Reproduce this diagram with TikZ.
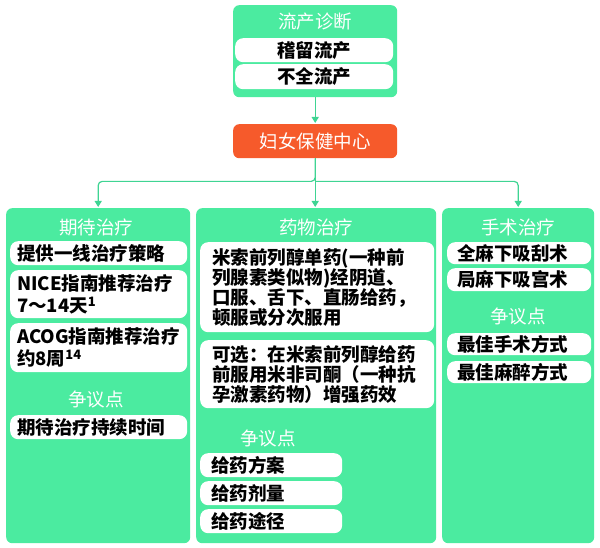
\documentclass[tikz,border=0pt]{standalone}
\usepackage{fontspec}
\usepackage{tikz}
\usetikzlibrary{arrows.meta}
\newfontfamily\cjk{Noto Sans CJK SC}
\definecolor{mint}{HTML}{4BEBA0}
\definecolor{wirecol}{HTML}{3FD493}
\definecolor{flame}{HTML}{F65A2B}

\begin{document}
\begin{tikzpicture}[x=1pt,y=-1pt,>={Triangle[length=6pt,width=7pt]},
    panel/.style={fill=mint,rounded corners=6pt,anchor=north west,inner sep=0pt},
    head/.style={text=white,font=\cjk\fontsize{18.5}{20}\selectfont},
    item/.style={fill=white,rounded corners=8pt,anchor=north west,inner ysep=0pt,
      align=left,text=black,font=\cjk\bfseries\fontsize{18.5}{20}\selectfont},
    lw/.style={item,inner xsep=7pt,text width=163pt},
    mw/.style={item,inner xsep=12pt,text width=210pt},
    ms/.style={item,inner xsep=11pt,text width=120pt},
    rw/.style={item,inner xsep=10pt,text width=124pt},
    wire/.style={->,wirecol,line width=1.2pt,rounded corners=4pt,shorten >=1pt}]
  \useasboundingbox (0,0) rectangle (600,548);

  % diagnosis and referral
  \node[panel,minimum width=164pt,minimum height=92pt] (diag) at (233,5) {};
  \node[head] (diagT) at (315,22) {流产诊断};
  \node[item,align=center,inner sep=0pt,minimum width=158pt,minimum height=24pt] (missed) at (235,38) {稽留流产};
  \node[item,align=center,inner sep=0pt,minimum width=158pt,minimum height=25pt] (incomp) at (235,64) {不全流产};
  \node[panel,head,fill=flame,minimum width=164pt,minimum height=34pt] (mch) at (233,124) {妇女保健中心};

  % three treatment columns
  \node[panel,minimum width=184pt,minimum height=335pt] (wait) at (6,208) {};
  \node[panel,minimum width=240pt,minimum height=335pt] (drug) at (196,208) {};
  \node[panel,minimum width=152pt,minimum height=335pt] (surg) at (442,208) {};

  % connectors
  \draw[wire] (diag) -- (mch);
  \draw[wire] (mch.south) -- ++(0,23) coordinate (fork) -| (wait.north);
  \draw[wire] (fork) -| (surg.north);
  \draw[wire] (mch.south) -- (mch.south |- drug.north);

  % expectant
  \node[head] (waitT) at (96,227) {期待治疗};
  \node[lw,minimum height=24pt] (w1) at (10,241) {提供一线治疗策略};
  \node[lw,minimum height=48pt] (w2) at (10,270) {NICE指南推荐治疗\\[2pt]7～14天\textsuperscript{1}};
  \node[lw,minimum height=49pt] (w3) at (10,323) {ACOG指南推荐治疗\\[2pt]约8周\textsuperscript{14}};
  \node[head] (wDebate) at (96,400) {争议点};
  \node[lw,minimum height=24pt] (w4) at (10,415) {期待治疗持续时间};

  % medical
  \node[head] (drugT) at (316,227) {药物治疗};
  \node[mw,minimum height=90pt] (d1) at (200,242) {米索前列醇单药(一种前\\列腺素类似物)经阴道、\\口服、舌下、直肠给药，\\顿服或分次服用};
  \node[mw,minimum height=68pt] (d2) at (200,340) {可选：在米索前列醇给药\\前服用米非司酮（一种抗\\孕激素药物）增强药效};
  \node[head] (dDebate) at (268,439) {争议点};
  \node[ms,minimum height=24pt] (d3) at (200,453) {给药方案};
  \node[ms,minimum height=24pt] (d4) at (200,481) {给药剂量};
  \node[ms,minimum height=24pt] (d5) at (200,509) {给药途径};

  % surgical
  \node[head] (surgT) at (518,227) {手术治疗};
  \node[rw,minimum height=22pt] (s1) at (447,242) {全麻下吸刮术};
  \node[rw,minimum height=23pt] (s2) at (447,268) {局麻下吸宫术};
  \node[head] (sDebate) at (518,317) {争议点};
  \node[rw,minimum height=22pt] (s3) at (447,333) {最佳手术方式};
  \node[rw,minimum height=22pt] (s4) at (447,361) {最佳麻醉方式};
\end{tikzpicture}
\end{document}
